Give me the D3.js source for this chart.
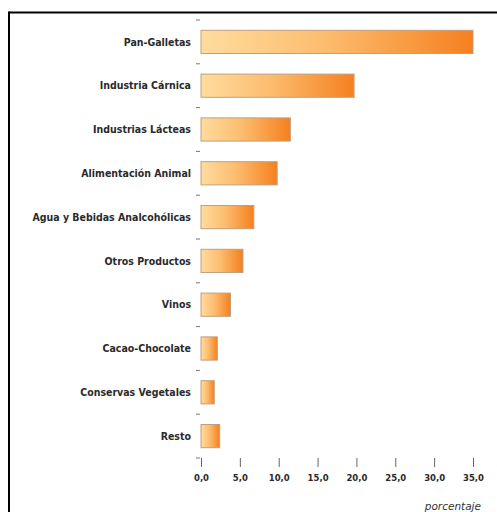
<!DOCTYPE html>
<html><head><meta charset="utf-8">
<script src="https://cdn.jsdelivr.net/npm/d3@7"></script>
<style>
html,body{margin:0;padding:0;background:#fff;}
svg{display:block;}
</style></head>
<body>
<script>
const categories = ["Pan-Galletas","Industria Cárnica","Industrias Lácteas","Alimentación Animal","Agua y Bebidas Analcohólicas","Otros Productos","Vinos","Cacao-Chocolate","Conservas Vegetales","Resto"];
const values = [35.0, 19.7, 11.5, 9.8, 6.8, 5.4, 3.8, 2.1, 1.7, 2.4];
const xTicks = [0,5,10,15,20,25,30,35];
const axisTitle = "porcentaje";

const W = 497, H = 512;
const svg = d3.select("body").append("svg").attr("width", W).attr("height", H);

// frame
svg.append("line").attr("x1",9).attr("x2",W).attr("y1",12.5).attr("y2",12.5).attr("stroke","#000").attr("stroke-width",2);
svg.append("line").attr("x1",9).attr("x2",9).attr("y1",11.5).attr("y2",H).attr("stroke","#000").attr("stroke-width",2);

const defs = svg.append("defs");
const grad = defs.append("linearGradient").attr("id","barGrad").attr("x1","0%").attr("x2","100%").attr("y1","0%").attr("y2","0%");
grad.append("stop").attr("offset","0%").attr("stop-color","#ffdc9e");
grad.append("stop").attr("offset","45%").attr("stop-color","#fcbd70");
grad.append("stop").attr("offset","100%").attr("stop-color","#f5801f");

const x = d3.scaleLinear().domain([0,35]).range([201,473]);
const y = d3.scaleBand().domain(categories).range([20,458]).paddingInner(0.47).paddingOuter(0.235);

// bars
svg.append("g").selectAll("rect").data(categories).join("rect")
  .attr("x", x(0))
  .attr("y", d => y(d))
  .attr("width", (d,i) => x(values[i]) - x(0))
  .attr("height", y.bandwidth())
  .attr("fill","url(#barGrad)")
  .attr("stroke","#c19f80")
  .attr("stroke-width",1);

// category labels
svg.append("g").selectAll("text").data(categories).join("text")
  .attr("x", 191)
  .attr("y", d => y(d) + y.bandwidth()/2)
  .attr("dy","0.35em")
  .attr("text-anchor","end")
  .attr("font-family","'DejaVu Sans Condensed','DejaVu Sans',sans-serif")
  .attr("font-weight","bold")
  .attr("font-size","10.5px")
  .attr("fill","#2a2a2a")
  .text(d => d);

// y tick dashes at band boundaries
const step = y.step();
const boundaries = d3.range(categories.length + 1).map(i => y.range()[0] + i*step);
svg.append("g").selectAll("line").data(boundaries).join("line")
  .attr("x1",196).attr("x2",200)
  .attr("y1",d=>d).attr("y2",d=>d)
  .attr("stroke","#777").attr("stroke-width",1);

// x axis
const xAxis = d3.axisBottom(x).tickValues(xTicks).tickSize(9).tickPadding(8)
  .tickFormat(d => d3.format(".1f")(d).replace(".",","));
const gx = svg.append("g").attr("transform","translate(0,458)").call(xAxis);
gx.select(".domain").remove();
gx.selectAll(".tick line").attr("stroke","#666");
gx.selectAll(".tick text").attr("font-family","'DejaVu Sans',sans-serif").attr("font-weight","bold")
  .attr("font-size","8.5px").attr("fill","#2a2a2a");

svg.append("text").attr("x",481).attr("y",510).attr("text-anchor","end")
  .attr("font-family","'DejaVu Sans',sans-serif").attr("font-style","italic")
  .attr("font-size","10.5px").attr("fill","#333").text(axisTitle);
</script>
</body></html>
